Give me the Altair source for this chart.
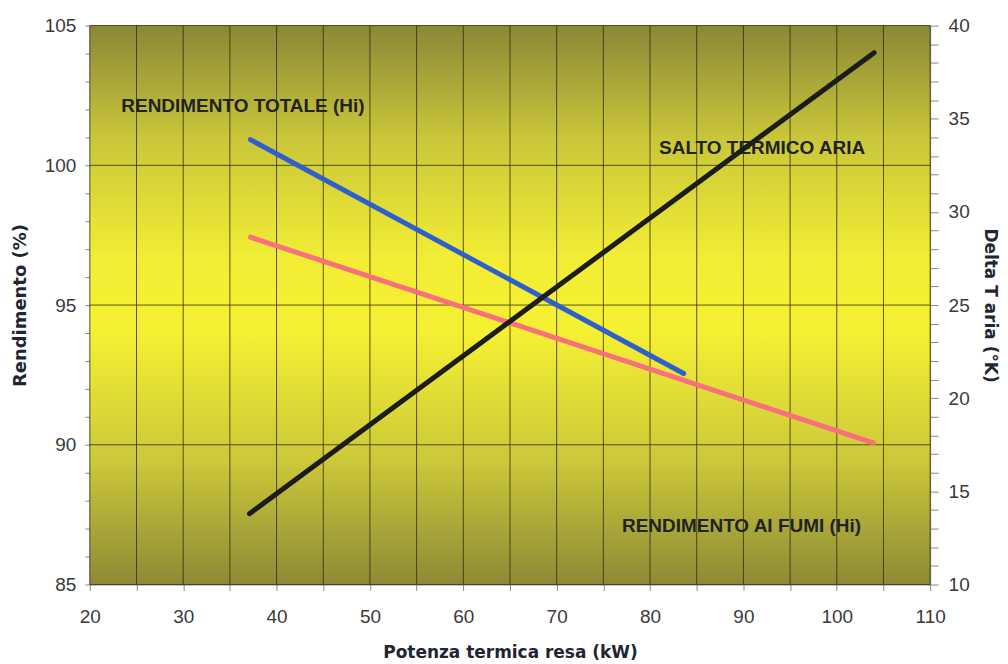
import altair as alt
import pandas as pd

# ---- data ----
potenza_tot = [37.2, 83.6]
rend_tot = [100.92, 92.55]

potenza_fumi = [37.2, 103.9]
rend_fumi = [97.43, 90.07]

potenza_delta = [37.1, 104.0]
delta_t = [13.8, 38.55]

label_text = ["RENDIMENTO TOTALE (Hi)", "SALTO TERMICO ARIA", "RENDIMENTO AI FUMI (Hi)"]
label_x = [36.4, 92.0, 89.8]
label_y = [102.11, 100.61, 87.11]

x_ticks = list(range(20, 111, 5))
y_left_ticks = list(range(85, 106, 1))
y_left_major = list(range(85, 106, 5))
y_right_ticks = list(range(10, 41, 1))

W, H = 842, 560

df_tot = pd.DataFrame({"p": potenza_tot, "r": rend_tot})
df_fumi = pd.DataFrame({"p": potenza_fumi, "r": rend_fumi})
df_delta = pd.DataFrame({"p": potenza_delta, "d": delta_t})
df_lab = pd.DataFrame({"t": label_text, "p": label_x, "r": label_y})
df_vgrid = pd.DataFrame({"p": x_ticks})
df_hgrid = pd.DataFrame({"r": y_left_major})
df_bg = pd.DataFrame({"a": [0]})

x_scale = alt.Scale(domain=[20, 110], nice=False, zero=False)
yl_scale = alt.Scale(domain=[85, 105], nice=False, zero=False)
yr_scale = alt.Scale(domain=[10, 40], nice=False, zero=False)

TICK_FONT = "Liberation Sans"
TITLE_FONT = "DejaVu Sans"

x_axis = alt.Axis(
    values=x_ticks,
    labelExpr="datum.value % 10 === 0 ? datum.label : ''",
    title="Potenza termica resa (kW)",
    titleFont=TITLE_FONT, titleFontSize=17, titleFontWeight="bold", titleColor="#1e2633",
    titlePadding=18,
    labelFont=TICK_FONT, labelFontSize=19, labelColor="#3a3a3a", labelPadding=17,
    labelFlush=False, labelOverlap=False,
    tickSize=6, tickColor="#888888",
    grid=False, domain=False,
)

yl_axis = alt.Axis(
    values=y_left_ticks,
    labelExpr="datum.value % 5 === 0 ? datum.label : ''",
    title="Rendimento (%)",
    titleFont=TITLE_FONT, titleFontSize=18, titleFontWeight="bold", titleColor="#1e2633",
    titlePadding=15,
    labelFont=TICK_FONT, labelFontSize=19, labelColor="#3a3a3a", labelPadding=9,
    labelFlush=False, labelOverlap=False,
    tickSize=5, tickColor="#888888",
    grid=False, domain=False,
)

yr_axis = alt.Axis(
    values=y_right_ticks,
    orient="right",
    labelExpr="datum.value % 5 === 0 ? datum.label : ''",
    title="Delta T aria (°K)",
    titleFont=TITLE_FONT, titleFontSize=17, titleFontWeight="bold", titleColor="#1e2633",
    titlePadding=11,
    labelFont=TICK_FONT, labelFontSize=19, labelColor="#3a3a3a", labelPadding=10,
    labelFlush=False, labelOverlap=False,
    tickSize=8, tickColor="#888888",
    grid=False, domain=False,
)

gradient = alt.Gradient(
    gradient="linear",
    stops=[
        alt.GradientStop(color="#8a8836", offset=0),
        alt.GradientStop(color="#c9c63a", offset=0.2),
        alt.GradientStop(color="#f3ee34", offset=0.42),
        alt.GradientStop(color="#f5f032", offset=0.55),
        alt.GradientStop(color="#cbc83a", offset=0.78),
        alt.GradientStop(color="#8c8a36", offset=1),
    ],
    x1=0, x2=0, y1=0, y2=1,
)

X = alt.X("p:Q", scale=x_scale, axis=x_axis)
YL = alt.Y("r:Q", scale=yl_scale, axis=yl_axis)

bg = alt.Chart(df_bg).mark_rect(fill=gradient).encode(
    x=alt.value(0), x2=alt.value(W), y=alt.value(0), y2=alt.value(H)
)

vgrid = alt.Chart(df_vgrid).mark_rule(color="#2f2e10", opacity=0.8, strokeWidth=1).encode(
    x=X, y=alt.value(0), y2=alt.value(H)
)

hgrid = alt.Chart(df_hgrid).mark_rule(color="#2f2e10", opacity=0.8, strokeWidth=1).encode(
    y=YL, x=alt.value(0), x2=alt.value(W)
)

line_tot = alt.Chart(df_tot).mark_line(color="#2f5fcf", strokeWidth=5, strokeCap="round").encode(
    x=X, y=YL
)

line_fumi = alt.Chart(df_fumi).mark_line(color="#f8707e", strokeWidth=5, strokeCap="round").encode(
    x=X, y=YL
)

labels = alt.Chart(df_lab).mark_text(
    font="Liberation Sans", fontSize=19, fontWeight="bold", color="#222222",
    align="center", baseline="middle",
).encode(x=X, y=YL, text="t:N")

left_layer = alt.layer(bg, vgrid, hgrid, line_tot, line_fumi, labels)

line_delta = alt.Chart(df_delta).mark_line(color="#1c1c1c", strokeWidth=5, strokeCap="round").encode(
    x=X,
    y=alt.Y("d:Q", scale=yr_scale, axis=yr_axis),
)

chart = (
    alt.layer(left_layer, line_delta)
    .resolve_scale(y="independent")
    .properties(
        width=W, height=H,
        padding={"left": 82, "top": 17, "right": 70, "bottom": 78},
        autosize=alt.AutoSizeParams(type="none"),
        background="white",
    )
    .configure_view(stroke="#8a8a8a", strokeWidth=1)
)

chart.save("out.html", embed_options={"renderer": "svg", "actions": False})
